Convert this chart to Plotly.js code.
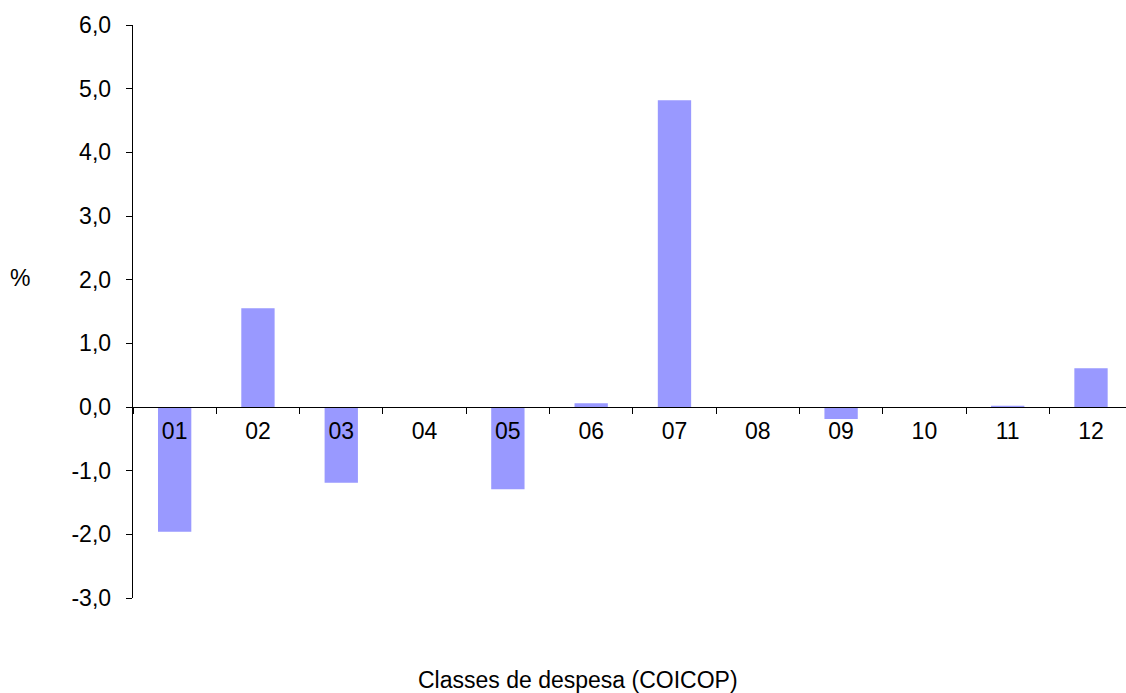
<!DOCTYPE html>
<html>
<head>
<meta charset="utf-8">
<script src="https://cdn.plot.ly/plotly-3.0.1.min.js"></script>
<style>html,body{margin:0;padding:0;background:#fff;}#chart{width:1126px;height:693px;}</style>
</head>
<body>
<div id="chart"></div>
<script>
var categories = ["01","02","03","04","05","06","07","08","09","10","11","12"];
var values = [-1.96, 1.55, -1.19, 0, -1.29, 0.06, 4.82, 0, -0.19, 0, 0.02, 0.61];
var yTickVals = [-3, -2, -1, 0, 1, 2, 3, 4, 5, 6];
var yTickText = ["-3,0","-2,0","-1,0","0,0","1,0","2,0","3,0","4,0","5,0","6,0"];
var yTitle = "%";
var xTitle = "Classes de despesa (COICOP)";

var trace = {
  type: "bar",
  x: categories,
  y: values,
  width: 0.4,
  marker: {color: "#9999FF"},
  hoverinfo: "x+y"
};

var font = {family: "Liberation Sans, Arial, sans-serif", size: 23, color: "#000"};

var layout = {
  width: 1126,
  height: 693,
  margin: {l: 133, r: 0, t: 25, b: 95},
  paper_bgcolor: "#fff",
  plot_bgcolor: "#fff",
  showlegend: false,
  font: font,
  xaxis: {
    type: "category",
    range: [-0.5, 11.42],
    anchor: "free",
    position: 1/3,
    showline: true,
    linecolor: "#000",
    linewidth: 1.3,
    ticks: "outside",
    tickson: "boundaries",
    ticklen: 6,
    tickcolor: "#000",
    ticklabelstandoff: 3,
    showgrid: false,
    zeroline: false,
    tickfont: font
  },
  yaxis: {
    range: [-3, 6],
    tickmode: "array",
    tickvals: yTickVals,
    ticktext: yTickText,
    showline: true,
    linecolor: "#000",
    linewidth: 1.3,
    ticks: "outside",
    ticklen: 6,
    tickcolor: "#000",
    ticklabelstandoff: 10,
    showgrid: false,
    zeroline: false,
    tickfont: font
  },
  annotations: [
    {text: yTitle, xref: "paper", yref: "paper", x: -0.114, y: 0.558, xanchor: "center", yanchor: "middle", showarrow: false, font: font},
    {text: xTitle, xref: "paper", yref: "paper", x: 0.448, y: -0.143, xanchor: "center", yanchor: "middle", showarrow: false, font: font}
  ]
};

Plotly.newPlot("chart", [trace], layout, {displayModeBar: false, staticPlot: true});
</script>
</body>
</html>
